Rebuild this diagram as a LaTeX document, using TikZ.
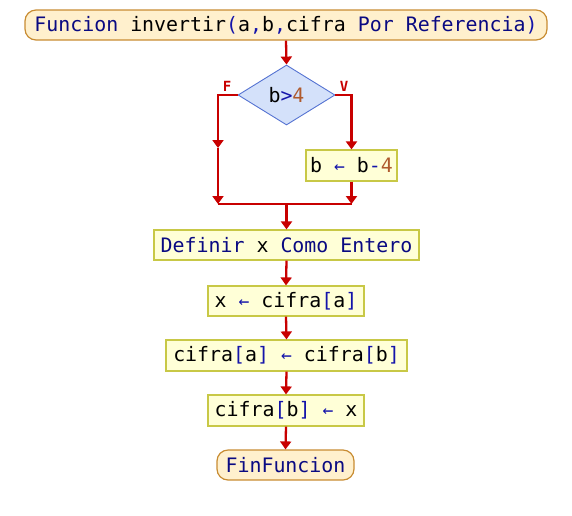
\documentclass[tikz,border=0pt]{standalone}
\usepackage{fontspec}
\setmonofont{DejaVu Sans Mono}
\usetikzlibrary{shapes.geometric,arrows.meta}

\definecolor{kwcol}{RGB}{10,10,130}
\definecolor{opcol}{RGB}{20,20,170}
\definecolor{numcol}{RGB}{175,90,45}
\definecolor{flowcol}{RGB}{200,0,0}
\definecolor{termfill}{RGB}{255,240,205}
\definecolor{termdraw}{RGB}{200,140,50}
\definecolor{procfill}{RGB}{255,255,215}
\definecolor{procdraw}{RGB}{200,200,70}
\definecolor{decfill}{RGB}{212,225,250}
\definecolor{decdraw}{RGB}{85,115,210}

% syntax colouring for the pseudocode
\newcommand{\kw}[1]{\textcolor{kwcol}{#1}}
\newcommand{\op}[1]{\textcolor{opcol}{#1}}
\newcommand{\nm}[1]{\textcolor{numcol}{#1}}
\newcommand{\asg}{\op{\fontsize{18}{20}\selectfont←}}

\tikzset{
  code/.style={font=\ttfamily\fontsize{19.9}{23}\selectfont, text=black, inner sep=0pt},
  term/.style={code, draw=termdraw, fill=termfill, line width=1.2pt, rounded corners=11pt},
  proc/.style={code, draw=procdraw, fill=procfill, line width=1.2pt},
  decision/.style={code, diamond, draw=decdraw, fill=decfill, line width=0.9pt, inner sep=0pt},
  flow/.style={draw=flowcol, line width=2.3pt, -{Triangle[width=11pt,length=8pt]}},
  link/.style={draw=flowcol, line width=2.3pt},
  branch/.style={text=flowcol, font=\ttfamily\bfseries\fontsize{14}{16}\selectfont, inner sep=0pt}
}

\begin{document}
\begin{tikzpicture}[x=1pt,y=-1pt]
  \useasboundingbox (0,0) rectangle (572,515);

  % blocks
  \node[term, minimum width=522pt, minimum height=30pt] (start) at (286,25)
    {\kw{Funcion} invertir\op{(}a\op{,}b\op{,}cifra \kw{Por Referencia}\op{)}};
  \node[decision, minimum width=97pt, minimum height=60pt] (cond) at (286.5,95)
    {b\op{>}\nm{4}};
  \node[branch] (lf) at (227,86) {F};
  \node[branch] (lv) at (344,86) {V};
  \node[proc, minimum width=91pt, minimum height=31pt] (dec) at (351.5,165.5)
    {b \asg{} b\op{-}\nm{4}};
  \node[proc, minimum width=265pt, minimum height=30pt] (def) at (286.5,245)
    {\kw{Definir} x \kw{Como Entero}};
  \node[proc, minimum width=156pt, minimum height=30pt] (s1) at (286,301)
    {x \asg{} cifra\op{[}a\op{]}};
  \node[proc, minimum width=241pt, minimum height=31pt] (s2) at (286.5,355.5)
    {cifra\op{[}a\op{]} \asg{} cifra\op{[}b\op{]}};
  \node[proc, minimum width=156pt, minimum height=31pt] (s3) at (286,410.5)
    {cifra\op{[}b\op{]} \asg{} x};
  \node[term, minimum width=137pt, minimum height=30pt] (stop) at (285.5,465)
    {\kw{FinFuncion}};

  % routing points of the two branches
  \coordinate (lmid) at (218,148);
  \coordinate (jl) at (218,204);
  \coordinate (jr) at (dec.south |- jl);
  \coordinate (jm) at (def.north |- jl);

  % connectors
  \draw[flow] (start.south) -- (cond.north);
  \draw[flow] (cond.west) -| (lmid);
  \draw[flow] (lmid) -- (jl);
  \draw[flow] (cond.east) -| (dec.north);
  \draw[flow] (dec.south) -- (jr);
  \draw[link] (jl) -- (jr);
  \draw[flow] (jm) -- (def.north);
  \draw[flow] (def.south) -- (s1.north);
  \draw[flow] (s1.south) -- (s2.north);
  \draw[flow] (s2.south) -- (s3.north);
  \draw[flow] (s3.south) -- (stop.north);
\end{tikzpicture}
\end{document}
